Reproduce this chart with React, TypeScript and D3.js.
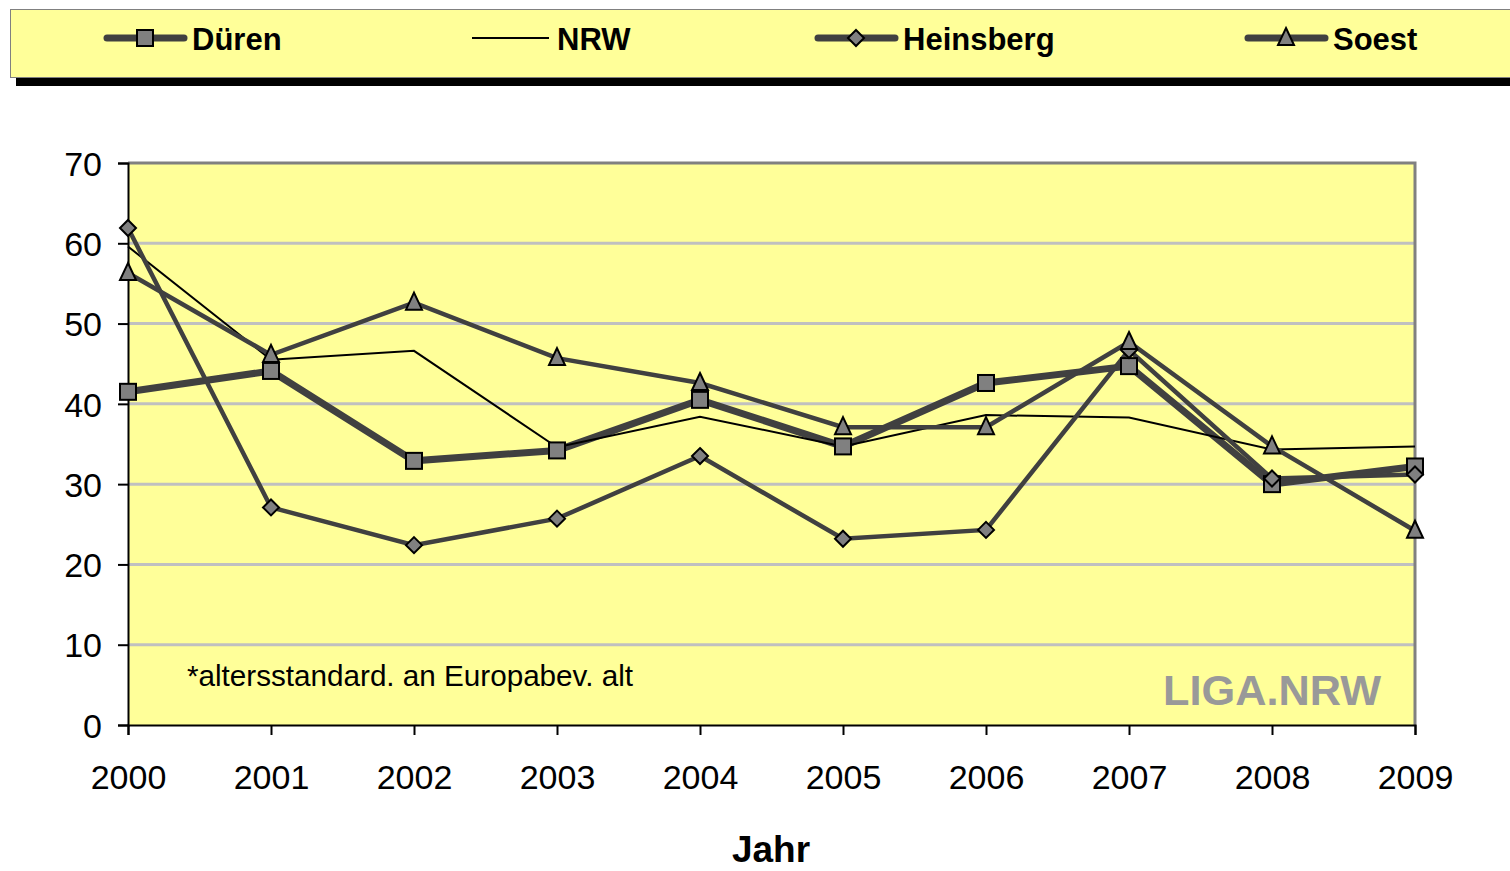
import React, { useEffect, useRef } from "react";
import * as d3 from "d3";

const years = ["2000", "2001", "2002", "2003", "2004", "2005", "2006", "2007", "2008", "2009"];
const dueren = [41.5, 44.1, 32.9, 34.2, 40.5, 34.7, 42.6, 44.7, 30.0, 32.2];
const nrw = [59.6, 45.5, 46.6, 34.6, 38.4, 34.7, 38.6, 38.3, 34.3, 34.7];
const heinsberg = [61.9, 27.1, 22.4, 25.7, 33.5, 23.2, 24.3, 46.7, 30.7, 31.2];
const soest = [56.3, 46.1, 52.6, 45.7, 42.6, 37.1, 37.1, 47.7, 34.7, 24.2];
const yTicks = [0, 10, 20, 30, 40, 50, 60, 70];

const series = [
  { name: "Düren", values: dueren, width: 7, color: "#404040", marker: "square", legendX: 107 },
  { name: "NRW", values: nrw, width: 2, color: "#000000", marker: "none", legendX: 472 },
  { name: "Heinsberg", values: heinsberg, width: 4.5, color: "#404040", marker: "diamond", legendX: 818 },
  { name: "Soest", values: soest, width: 4.5, color: "#404040", marker: "triangle", legendX: 1248 },
];

const W = 1510;
const H = 871;
const FONT = "'Liberation Sans', Arial, sans-serif";

function drawMarker(g: any, kind: string, x: number, y: number) {
  if (kind === "square") {
    g.append("rect").attr("x", x - 8).attr("y", y - 8).attr("width", 16).attr("height", 16)
      .attr("fill", "#808080").attr("stroke", "#000").attr("stroke-width", 2);
  } else if (kind === "diamond") {
    g.append("path").attr("d", `M${x},${y - 8}L${x + 8},${y}L${x},${y + 8}L${x - 8},${y}Z`)
      .attr("fill", "#808080").attr("stroke", "#000").attr("stroke-width", 2);
  } else if (kind === "triangle") {
    g.append("path").attr("d", `M${x},${y - 10}L${x + 8},${y + 7}L${x - 8},${y + 7}Z`)
      .attr("fill", "#808080").attr("stroke", "#000").attr("stroke-width", 2);
  }
}

export default function App() {
  const ref = useRef<SVGSVGElement>(null);

  useEffect(() => {
    const svg = d3.select(ref.current);
    svg.selectAll("*").remove();

    const x = d3.scalePoint().domain(years).range([128, 1415]);
    const y = d3.scaleLinear().domain([0, 70]).range([725, 163]);

    // legend box with shadow
    svg.append("rect").attr("x", 16).attr("y", 77).attr("width", W).attr("height", 9).attr("fill", "#000");
    svg.append("rect").attr("x", 10.5).attr("y", 9.5).attr("width", W).attr("height", 68)
      .attr("fill", "#ffff99").attr("stroke", "#808080").attr("stroke-width", 1);

    const lg = svg.append("g");
    series.forEach((s) => {
      lg.append("line").attr("x1", s.legendX).attr("x2", s.legendX + 77).attr("y1", 38).attr("y2", 38)
        .attr("stroke", s.color).attr("stroke-width", s.marker === "none" ? 2 : 7)
        .attr("stroke-linecap", s.marker === "none" ? "butt" : "round");
      drawMarker(lg, s.marker, s.legendX + 38, 38);
      lg.append("text").attr("x", s.legendX + 85).attr("y", 50).text(s.name)
        .attr("font-family", FONT).attr("font-weight", "bold").attr("font-size", 31).attr("fill", "#000");
    });

    // plot area
    svg.append("rect").attr("x", 128).attr("y", 163).attr("width", 1415 - 128).attr("height", 725 - 163)
      .attr("fill", "#ffff99");
    svg.append("g").selectAll("line").data(yTicks.filter((t) => t > 0 && t < 70)).enter().append("line")
      .attr("x1", 128).attr("x2", 1415).attr("y1", (d) => y(d)).attr("y2", (d) => y(d))
      .attr("stroke", "#c0c0c0").attr("stroke-width", 3);
    svg.append("path").attr("d", `M128,163H1415V725`).attr("fill", "none").attr("stroke", "#808080").attr("stroke-width", 3);

    // axes
    const ya = svg.append("g").attr("transform", "translate(128,0)")
      .call(d3.axisLeft(y).tickValues(yTicks).tickSize(10).tickPadding(16));
    const xa = svg.append("g").attr("transform", "translate(0,725)")
      .call(d3.axisBottom(x).tickSize(10).tickPadding(30));
    [ya, xa].forEach((a) => {
      a.select(".domain").attr("stroke", "#000").attr("stroke-width", 2);
      a.selectAll("line").attr("stroke", "#000").attr("stroke-width", 2);
      a.selectAll("text").attr("font-family", FONT).attr("font-size", 34).attr("fill", "#000");
    });
    ya.selectAll("text").attr("dy", "0.36em");
    xa.selectAll("text").attr("dy", "0.72em");

    // notes
    svg.append("text").attr("x", 187).attr("y", 686).text("*altersstandard. an Europabev. alt")
      .attr("font-family", FONT).attr("font-size", 29).attr("textLength", 446)
      .attr("lengthAdjust", "spacingAndGlyphs").attr("fill", "#000");
    svg.append("text").attr("x", 1163).attr("y", 705).text("LIGA.NRW")
      .attr("font-family", FONT).attr("font-weight", "bold").attr("font-size", 42)
      .attr("textLength", 218).attr("lengthAdjust", "spacingAndGlyphs").attr("fill", "#999999");
    svg.append("text").attr("x", 771).attr("y", 862).attr("text-anchor", "middle").text("Jahr")
      .attr("font-family", FONT).attr("font-weight", "bold").attr("font-size", 37).attr("fill", "#000");

    // lines
    const line = d3.line<number>().x((_, i) => x(years[i]) as number).y((d) => y(d));
    series.forEach((s) => {
      svg.append("path").attr("d", line(s.values)).attr("fill", "none")
        .attr("stroke", s.color).attr("stroke-width", s.width).attr("stroke-linejoin", "miter");
    });
    series.forEach((s) => {
      const mg = svg.append("g");
      s.values.forEach((v, i) => drawMarker(mg, s.marker, x(years[i]) as number, y(v)));
    });
  }, []);

  return (
    <svg ref={ref} width={W} height={H} style={{ position: "absolute", left: 0, top: 0, background: "#fff" }} />
  );
}
